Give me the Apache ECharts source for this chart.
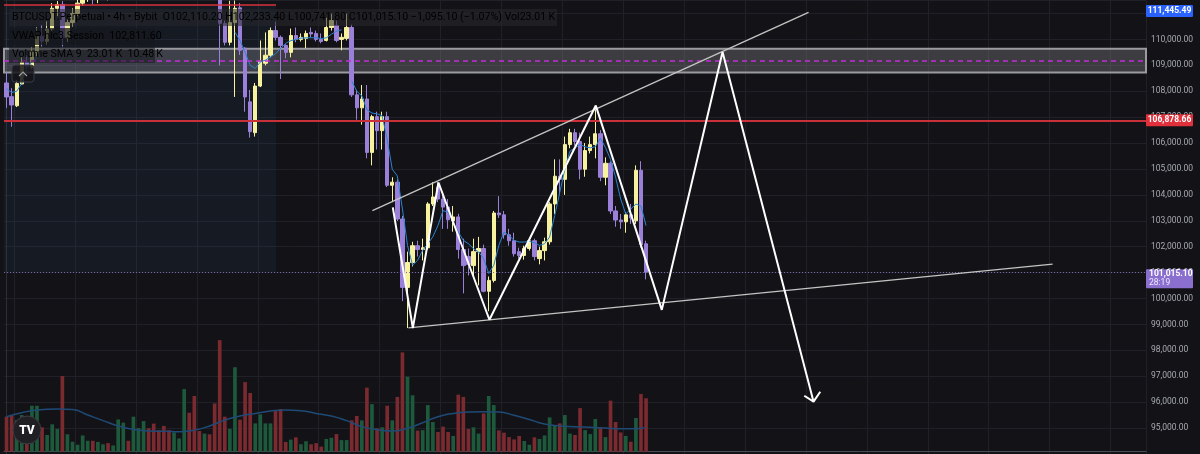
<!DOCTYPE html>
<html><head><meta charset="utf-8">
<script src="https://cdn.jsdelivr.net/npm/echarts@6/dist/echarts.min.js"></script>
<style>html,body{margin:0;padding:0;background:#131317;}#c{width:1200px;height:454px;}</style>
</head><body><div id="c"></div>
<script>
// ---------- DATA ----------
// candles: [open, close, low, high], 4h BTCUSDT
const ohlc = [
[108320,107780,107360,108740],[107790,107470,106630,108120],[107440,108300,107390,108430],[108280,109120,108240,109310],
[109120,108930,108700,109390],[108930,109500,108850,109700],[109500,110120,109350,110460],[110120,109930,109700,110560],
[109930,110400,109800,110700],[110400,111200,110300,111400],[111200,111350,110900,111480],[111350,110080,109690,111480],
[110080,110650,109900,110800],[110650,111000,110500,111200],[111000,111400,110900,111600],[111400,111700,111300,111900],
[111700,111850,111450,112000],[111850,111650,111350,111950],[111650,111800,111400,111950],[111800,111950,111600,112100],
[111950,111800,111500,112050],[111800,111950,111600,112100],[111950,112500,111850,112700],[112500,112950,112400,113100],
[112950,112800,112600,113050],[112800,113400,112700,113600],[113400,113700,113200,113900],[113700,114200,113600,114400],
[114200,113800,113600,114300],[113800,113300,113100,113900],[113300,113000,112800,113500],[113000,112600,112400,113100],
[112600,112300,112100,112700],[112300,112600,112200,112800],[112600,112800,112450,112950],[112800,113600,112700,113800],
[113600,113000,112800,113700],[113000,112300,112000,113100],[112300,112100,111900,112500],[112100,112400,112000,112600],
[112400,112200,112000,112500],[112200,111800,111600,112300],[111800,110620,109000,111950],[110610,109890,109770,110730],
[109890,110650,109770,111490],[110650,111200,107780,111500],[111220,109580,109400,111400],[109660,107780,107210,109700],
[107590,106440,106210,108050],[106400,108200,106250,108320],[108200,109160,108160,109960],[109080,109390,109000,110270],
[109390,110340,109310,110460],[110340,110080,109960,110690],[110080,109770,108470,110150],[109770,109500,109270,109810],
[109500,110150,109310,110420],[110150,110000,109890,110460],[110000,110080,109920,110230],[110040,110230,109660,110340],
[110270,110210,110080,110460],[110230,110000,109920,110340],[110000,109920,109850,110230],[109960,110460,109920,110840],
[110460,110730,110340,110990],[110540,109960,109890,110730],[110000,110080,109580,110230],[110040,110460,109960,110990],
[110460,107860,107780,110570],[107860,107360,106900,108050],[107360,107700,106710,108240],[107700,105640,105410,108240],
[105640,107020,105140,107090],[107020,106480,105750,107210],[106480,107020,105750,107210],[107020,104370,104300,107210],
[104370,104490,103720,104680],[104490,103070,102990,104600],[103070,100430,99900,103190],[100430,101390,98860,101810],
[101390,102040,101240,102190],[102040,101890,101620,102230],[101890,101960,101470,102310],[101960,103650,101890,103720],
[103650,103920,103570,104490],[104300,103840,103720,104490],[103840,103530,102690,104110],[103530,103040,102690,103840],
[103000,103150,102580,103570],[103150,101890,101540,103270],[101890,101270,100200,102310],[101620,101310,100890,101930],
[101270,101810,100890,102310],[101810,101930,100510,102380],[101930,100280,100240,102080],[100280,100700,99510,100850],
[100700,103300,100620,103380],[103300,103230,103110,103950],[103230,102460,102310,103380],[102460,102230,102040,102690],
[102230,101730,101620,102540],[101810,101660,101540,101960],[101660,101930,101500,102040],[101930,102230,101850,102350],
[102230,101620,101470,102310],[101540,101850,101320,102000],[101850,102190,101470,102350],[102190,103650,102080,103720],
[103650,104720,103260,105370],[104720,104600,104000,105370],[104600,105940,104000,106250],[105940,106400,105800,106550],
[106400,106060,105900,106550],[106060,104990,104600,106400],[104990,105710,104700,106000],[105710,105940,105600,106250],
[105940,106360,105410,107400],[106360,104680,104530,106500],[104680,105220,104370,105450],[105220,103380,103260,105290],
[103380,103030,102770,103570],[103030,102960,102690,103260],[102960,103230,102540,103340],[103230,103110,102880,103650],
[103000,104950,102880,105140],[104950,102080,101960,105300],[102110.2,101015.1,100741.8,102233.4]
];
// volume (K)
const volumes = [15.1,15.7,13.6,15.8,4.3,19.8,19.8,10.5,7.2,11.8,9.8,32.6,7.5,4.3,3.0,7.0,4.7,4.7,4.2,3.2,
3.7,2.7,13.9,12.5,4.7,15.1,10.2,13.2,10.1,12.1,9.3,11.1,9.3,8.3,5.7,27.0,16.8,24.0,8.9,7.8,
7.5,20.8,48.1,15.1,9.8,36.4,13.8,30.0,25.3,12.2,16.1,12.2,12.2,17.5,18.4,4.2,5.2,6.2,3.2,4.5,
3.2,3.7,2.2,5.5,6.0,7.6,5.0,5.0,13.5,15.4,13.5,27.6,20.5,10.1,10.5,19.8,13.5,23.6,42.8,32.3,
24.3,9.1,9.3,20.1,12.8,8.5,10.8,8.5,6.8,24.6,23.6,9.8,10.5,7.8,16.5,24.0,20.1,9.2,8.2,6.3,
5.3,6.8,4.6,3.0,6.2,5.5,7.0,14.8,11.4,12.2,15.8,7.8,7.2,18.8,9.3,7.6,14.1,10.5,6.3,22.0,
12.8,8.3,6.8,4.3,14.5,24.9,23.01];
// Volume SMA 9 read at sample candles: [candle index, value K]
const volSma = [[0,15.1],[3,16.8],[6,18.0],[10,18.4],[13,18.2],[16,15.8],[19,13.4],[22,11.1],[25,9.6],[28,8.9],
[31,8.8],[34,8.6],[37,9.3],[40,11.1],[43,13.6],[46,15.4],[49,16.5],[52,17.5],[55,18.0],[58,17.7],[61,16.5],
[64,15.4],[67,13.4],[70,10.8],[73,9.5],[76,8.9],[79,10.1],[82,12.5],[85,15.1],[88,16.5],[91,17.1],[94,17.2],
[97,17.1],[100,15.7],[103,13.9],[106,11.9],[109,11.1],[112,10.8],[115,10.5],[118,10.2],[121,9.9],[124,9.9],[126,10.48]];
// VWAP hlc3 session (null where hidden / session break)
const vwap = [108100,107950,108000,108300,108900,109150,109300,
null,null,null,null,null,null,null,null,null,null,null,null,null,null,null,null,null,null,null,null,null,null,null,null,null,null,null,null,null,null,null,null,null,null,null,null,null,null,
110280,109960,109500,109000,108880,109130,109200,109320,109450,109650,109850,109950,110000,110050,110060,110065,110065,110030,110060,110200,110318,110371,null,
108400,108000,107820,107283,107157,107130,107053,106135,104987,104730,103456,102050,101286,101477,101860,102116,102384,102817,103391,103330,
102947,102564,102243,102116,101925,101799,101543,100968,101286,102050,102564,102436,102243,102180,102180,102206,102155,102050,102116,102372,
103200,104095,104987,105687,105817,105943,105855,105817,105855,106180,105829,105369,104680,103839,103265,103456,103647,103571,102812];
// horizontal levels
const resistanceLevel = 106878.66;
const lastPrice = 101015.10;
const highPrice = 111445.49;
const zoneTop = 109644, zoneBottom = 108726, zoneMid = 109170;
const boxTop = 111330, boxRight = 53.1;
// drawings: [candle position, price]
const upperTrend = [[72.08,103391],[158.01,111045]];
const lowerTrend = [[79.18,98864],[206.1,101324]];
const zigzag = [[76.1,103521],[80.05,98864],[85.1,104478],[95.14,99181],[116.1,107447],[129.1,99563],[141.07,109514],[159.0,96020]];
const arrowHead = [[157.17,96249],[159.0,96020],[160.32,96402]];
// legend texts
const legendRow1 = [['BTCUSDT.Perpetual \u2022 4h \u2022 Bybit  ','g'],['O','g'],['102,110.20 ','p'],['H','g'],['102,233.40 ','p'],['L','g'],['100,741.80 ','p'],['C','g'],['101,015.10 ','p'],['\u22121,095.10 (\u22121.07%) ','p'],['Vol','g'],['23.01\u2009K','p']];
const legendRow2 = [['VWAP hlc3 Session  ','g'],['102,811.60','b']];
const legendRow3 = [['Volume SMA 9  ','g'],['23.01\u2009K  ','r'],['10.48\u2009K','b']];

// ---------- CHART ----------
const N = 225;
const cats = Array.from({length:N},(_,i)=>String(i));
const UP='#f6f29e', DOWN='#9b80da', VUP='#1d5a3c', VDOWN='#7b2a30', GRID='#202128';
const fmt = v => v.toLocaleString('en-US',{minimumFractionDigits:2,maximumFractionDigits:2});
const smaLine = new Array(ohlc.length).fill(null); volSma.forEach(([i,v])=>{smaLine[i]=v;});
const volData = volumes.map((v,i)=>({value:v,itemStyle:{color: ohlc[i][1]>=ohlc[i][0]?VUP:VDOWN}}));
const rich = {g:{color:'#aeb1b8'},p:{color:'#a990e6'},b:{color:'#2b8fe6'},r:{color:'#ec4450'}};
const mkText = row => row.map(([t,k])=>'{'+k+'|'+t+'}').join('');

const chart = echarts.init(document.getElementById('c'));
const Y0 = 94000, Y1 = 111500, PX = 0.0261;
chart.setOption({
  animation:false,
  backgroundColor:'#131317',
  grid:[{left:4,right:54,top:0.55,height:(Y1-Y0)*PX},{left:4,right:54,top:335.7,height:116}],
  xAxis:[
    {type:'category',gridIndex:0,data:cats,boundaryGap:true,axisLine:{show:false},axisTick:{show:false},axisLabel:{show:false},
     splitLine:{show:true,interval:(i)=>i%12===2,lineStyle:{color:GRID,width:1}}},
    {type:'value',gridIndex:0,min:-0.5,max:N-0.5,show:false},
    {type:'category',gridIndex:1,data:cats,boundaryGap:true,axisLine:{show:true,lineStyle:{color:'#4a4d55'}},axisTick:{show:false},axisLabel:{show:false},splitLine:{show:false}}
  ],
  yAxis:[
    {type:'value',gridIndex:0,position:'right',min:Y0,max:Y1,interval:1000,
     axisLine:{show:true,lineStyle:{color:'#2c2e35'}},axisTick:{show:false},
     splitLine:{show:true,lineStyle:{color:GRID,width:1}},
     axisLabel:{color:'#a7aab2',fontSize:8.5,fontFamily:'Roboto',margin:5,showMinLabel:false,showMaxLabel:false,formatter:fmt}},
    {type:'value',gridIndex:1,min:0,max:50,show:false}
  ],
  series:[
    {type:'line',xAxisIndex:1,yAxisIndex:0,data:[],z:1,silent:true,
     markArea:{silent:true,itemStyle:{color:'rgba(40,80,120,0.12)'},data:[[{coord:[-0.5,lastPrice]},{coord:[boxRight,boxTop]}]]},
     markLine:{silent:true,symbol:'none',label:{show:false},lineStyle:{color:'#d7323c',width:1.5,type:'solid'},
       data:[[{coord:[-0.5,boxTop]},{coord:[boxRight,boxTop]}]]}},
    {type:'bar',xAxisIndex:2,yAxisIndex:1,data:volData,barWidth:'72%',z:1},
    {type:'line',xAxisIndex:2,yAxisIndex:1,data:smaLine,connectNulls:true,smooth:true,symbol:'none',lineStyle:{color:'#1f4a76',width:1.5},z:2},
    {type:'candlestick',xAxisIndex:0,yAxisIndex:0,data:ohlc,barWidth:'76%',clip:true,z:3,
     itemStyle:{color:UP,color0:DOWN,borderColor:UP,borderColor0:DOWN,borderWidth:1}},
    {type:'line',xAxisIndex:0,yAxisIndex:0,data:vwap,symbol:'none',connectNulls:false,lineStyle:{color:'#2b84d0',width:1},z:4},
    {type:'line',xAxisIndex:1,yAxisIndex:0,data:[],z:6,silent:true,
     markArea:{silent:true,itemStyle:{color:'rgba(135,135,140,0.36)',borderColor:'#9a9ba0',borderWidth:2},
       data:[[{coord:[-0.5,zoneTop]},{coord:[N-0.5,zoneBottom]}]]}},
    {type:'line',xAxisIndex:1,yAxisIndex:0,data:[],z:7,silent:true,
     markLine:{silent:true,symbol:'none',label:{show:false},lineStyle:{color:'#c42ddb',width:1.5,type:[5,4]},
       data:[{yAxis:zoneMid}]}},
    {type:'line',xAxisIndex:1,yAxisIndex:0,data:[],z:7,silent:true,
     markLine:{silent:true,symbol:'none',label:{show:false},lineStyle:{color:'#c8303a',width:2,type:'solid'},
       data:[{yAxis:resistanceLevel}]}},
    {type:'line',xAxisIndex:1,yAxisIndex:0,data:[],z:7,silent:true,
     markLine:{silent:true,symbol:'none',label:{show:false},lineStyle:{color:'#7a66ab',width:1,type:[1,2]},
       data:[{yAxis:lastPrice}]}},
    {type:'line',xAxisIndex:1,yAxisIndex:0,data:upperTrend,symbol:'none',lineStyle:{color:'#c4c4c4',width:1.3},z:8},
    {type:'line',xAxisIndex:1,yAxisIndex:0,data:lowerTrend,symbol:'none',lineStyle:{color:'#c4c4c4',width:1.3},z:8},
    {type:'line',xAxisIndex:1,yAxisIndex:0,data:zigzag,symbol:'none',lineStyle:{color:'#ffffff',width:2},z:9},
    {type:'line',xAxisIndex:1,yAxisIndex:0,data:arrowHead,symbol:'none',lineStyle:{color:'#ffffff',width:2},z:9}
  ]
});

// overlays positioned through the axis scale
const yp = v => chart.convertToPixel({yAxisIndex:0}, v);
const tagX = 1146, tagW = 47;
const yHigh = Math.max(yp(highPrice), 11);
const yRes = yp(resistanceLevel);
const yLast = yp(lastPrice);
const tagFont = 'bold 8.5px Roboto';
const lf = '10.6px Roboto';
chart.setOption({graphic:[
  // legend backgrounds
  {type:'rect',shape:{x:9,y:9,width:548,height:17},style:{fill:'rgba(40,40,46,0.55)'},z:100},
  {type:'rect',shape:{x:9,y:28,width:146,height:17},style:{fill:'rgba(22,24,30,0.75)'},z:100},
  {type:'rect',shape:{x:9,y:46,width:146,height:17},style:{fill:'rgba(22,24,30,0.55)'},z:100},
  {type:'text',x:12,y:17.5,style:{text:mkText(legendRow1),rich:rich,font:lf,verticalAlign:'middle'},z:101},
  {type:'text',x:12,y:36.5,style:{text:mkText(legendRow2),rich:rich,font:lf,verticalAlign:'middle'},z:101},
  {type:'text',x:12,y:54.5,style:{text:mkText(legendRow3),rich:rich,font:lf,verticalAlign:'middle'},z:101},
  // collapse button
  {type:'rect',shape:{x:12,y:65,width:22,height:17,r:3},style:{fill:'rgba(20,20,25,0.85)',stroke:'#3a3c44',lineWidth:1},z:101},
  {type:'polyline',shape:{points:[[19,76],[23,72],[27,76]]},style:{stroke:'#9a9ca4',lineWidth:1.2,fill:null},z:102},
  // price tags
  {type:'rect',shape:{x:tagX,y:yHigh-6,width:tagW,height:12,r:1},style:{fill:'#2962ff'},z:110},
  {type:'text',x:tagX+tagW/2,y:yHigh,style:{text:fmt(highPrice),fill:'#ffffff',font:tagFont,align:'center',verticalAlign:'middle'},z:111},
  {type:'rect',shape:{x:tagX,y:yRes-6,width:tagW,height:12,r:1},style:{fill:'#e0303b'},z:110},
  {type:'text',x:tagX+tagW/2,y:yRes,style:{text:fmt(resistanceLevel),fill:'#ffffff',font:tagFont,align:'center',verticalAlign:'middle'},z:111},
  {type:'rect',shape:{x:tagX,y:yLast-3,width:tagW,height:19,r:1},style:{fill:'#8b6fcf'},z:110},
  {type:'text',x:tagX+3,y:yLast+2,style:{text:fmt(lastPrice),fill:'#ffffff',font:tagFont,verticalAlign:'middle'},z:111},
  {type:'text',x:tagX+3,y:yLast+11,style:{text:'28:19',fill:'#ece6ff',font:'8.5px Roboto',verticalAlign:'middle'},z:111},
  // TradingView logo
  {type:'circle',shape:{cx:27,cy:430,r:14},style:{fill:'#202024',stroke:'#3b3c42',lineWidth:1},z:105},
  {type:'text',x:27,y:430.5,style:{text:'TV',fill:'#ffffff',font:'900 12px Roboto',align:'center',verticalAlign:'middle'},z:106}
]});
</script>
</body></html>
